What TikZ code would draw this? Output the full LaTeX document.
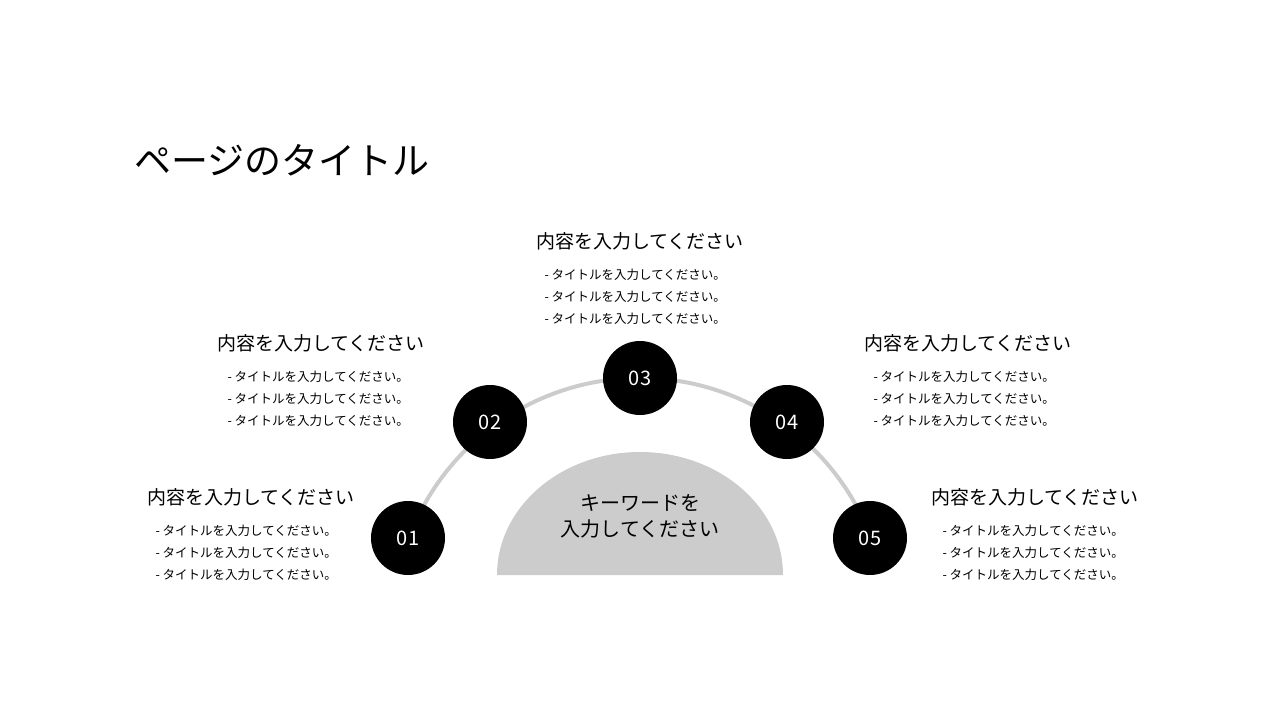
\documentclass[tikz,border=0pt]{standalone}
\usepackage{fontspec}
\newfontfamily\jp{Noto Sans CJK JP}
\begin{document}
\begin{tikzpicture}[x=1pt,y=-1pt,
 num/.style={circle,fill=black,minimum size=74pt,inner sep=0pt,text=white,font=\jp\fontsize{20}{20}\selectfont},
 head/.style={font=\jp\fontsize{19}{20}\selectfont},
 bul/.style={anchor=west,font=\jp\fontsize{12.5}{14}\selectfont}]
\useasboundingbox (0,0) rectangle (1280,720);
\node[anchor=west,font=\jp\fontsize{37}{40}\selectfont] (title) at (131,160) {ページのタイトル};
\draw[line width=4pt,color=black!20] (640,625) ++(200:247) arc[start angle=200,end angle=340,radius=247];
\fill[black!20] (497,575) arc[start angle=180,end angle=360,x radius=143,y radius=123] -- cycle;
\node[align=center,font=\jp\fontsize{20}{26}\selectfont] (kw) at (640,516) {キーワードを\\入力してください};
\node[num] (n1) at (408,538) {01};
\node[num] (n2) at (490,422) {02};
\node[num] (n3) at (640,378) {03};
\node[num] (n4) at (787,422) {04};
\node[num] (n5) at (870,538) {05};
\foreach \i/\hx/\hy/\bx in {1/251/497/152, 2/321/343/224, 3/640/241/541, 4/968/343/870, 5/1035/497/939}{
 \node[head] (h\i) at (\hx,\hy) {内容を入力してください};
 \foreach \k in {0,1,2}{
  \node[bul] (b\i\k) at (\bx,\hy+34+22*\k) {- タイトルを入力してください。};
 }
}
\end{tikzpicture}
\end{document}
